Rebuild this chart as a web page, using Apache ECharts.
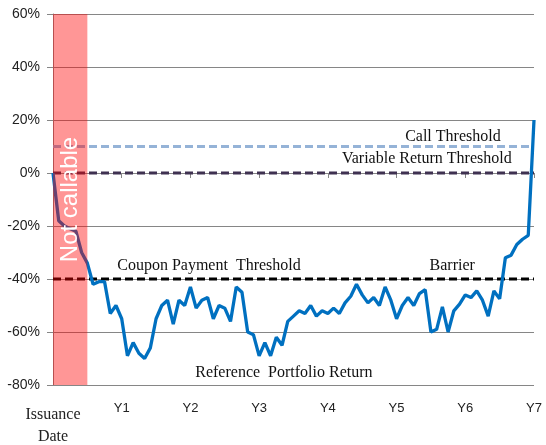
<!DOCTYPE html>
<html>
<head>
<meta charset="utf-8">
<script src="https://cdn.jsdelivr.net/npm/echarts@6/dist/echarts.min.js"></script>
<style>html,body{margin:0;padding:0;background:#fff}#c{width:546px;height:445px}</style>
</head>
<body>
<div id="c"></div>
<script>
// Monthly observations (years from issuance)
const months = [];
for (let i = 0; i <= 84; i++) months.push(i);
const portfolioReturn = [
  0, -18, -20, -21, -22, -30, -34, -42, -41, -41,
  -53, -50, -55, -69, -64, -68, -70, -66, -55, -50,
  -48, -57, -48, -50, -43, -51, -48, -47, -55, -50,
  -51, -56, -43, -45, -60, -61, -69, -64, -69, -62,
  -65, -56, -54, -52, -53, -50, -54, -52, -53, -51,
  -53, -49, -46.5, -42, -46, -49, -47, -50, -43, -48,
  -55, -50, -47, -50, -45.5, -44, -60, -59, -50.5, -60,
  -52, -49.5, -46, -47, -44.5, -48, -54, -44.5, -47.5, -32,
  -31, -27, -25, -23.5, 20
];
const yearTicks = ['Issuance\nDate', 'Y1', 'Y2', 'Y3', 'Y4', 'Y5', 'Y6', 'Y7'];
const callThreshold = 10;
const variableReturnThreshold = 0;
const barrier = -40;
const notCallableEnd = 0.5;

const lineData = months.map((m, i) => [m / 12, portfolioReturn[i]]);
const flat = v => [[0, v], [7, v]];

const serif = 'Liberation Serif';
const sans = 'Liberation Sans';

const chart = echarts.init(document.getElementById('c'));
chart.setOption({
  animation: false,
  grid: { left: 53, right: 12, top: 14, bottom: 58 },
  xAxis: {
    type: 'value', min: 0, max: 7, interval: 1,
    axisLine: { show: true, lineStyle: { color: '#868686', width: 1 } },
    axisTick: { show: true, length: 5, lineStyle: { color: '#868686' } },
    splitLine: { show: false },
    axisLabel: {
      margin: 17, color: '#222', fontFamily: sans, fontSize: 13,
      formatter: v => v === 0 ? '{d|' + yearTicks[0] + '}' : yearTicks[v],
      rich: { d: { fontFamily: serif, fontSize: 16, lineHeight: 22, color: '#222', padding: [4, 0, 0, 0] } }
    }
  },
  yAxis: {
    type: 'value', min: -80, max: 60, interval: 20,
    axisLine: { show: true, lineStyle: { color: '#868686', width: 1 } },
    axisTick: { show: true, length: 6, lineStyle: { color: '#868686' } },
    splitLine: { show: true, lineStyle: { color: '#868686', width: 1 } },
    axisLabel: { margin: 13, color: '#222', fontFamily: sans, fontSize: 14, formatter: '{value}%' }
  },
  series: [
    {
      type: 'line', data: flat(callThreshold), symbol: 'none', z: 2,
      lineStyle: { color: '#95B3D7', width: 3, type: [8, 4] },
      markPoint: {
        symbol: 'circle', symbolSize: 0,
        label: { show: true, position: 'inside', color: '#111', fontFamily: serif, fontSize: 16, formatter: '{b}' },
        data: [
          { name: 'Call Threshold', coord: [5.82, 13.6] },
          { name: 'Variable Return Threshold', coord: [5.44, 5.4] }
        ]
      }
    },
    {
      type: 'line', data: flat(variableReturnThreshold), symbol: 'none', z: 2,
      lineStyle: { color: '#3F3151', width: 3, type: [8, 4] }
    },
    {
      type: 'line', data: flat(barrier), symbol: 'none', z: 2,
      lineStyle: { color: '#000', width: 3, type: [8, 4] },
      markPoint: {
        symbol: 'circle', symbolSize: 0,
        label: { show: true, position: 'inside', color: '#111', fontFamily: serif, fontSize: 16, formatter: '{b}' },
        data: [
          { name: 'Coupon Payment  Threshold', coord: [2.27, -35] },
          { name: 'Barrier', coord: [5.81, -35] },
          { name: 'Reference  Portfolio Return', coord: [3.36, -75.3] }
        ]
      }
    },
    {
      type: 'line', data: lineData, symbol: 'none', z: 3,
      lineStyle: { color: '#0070C0', width: 3.3 }
    },
    {
      type: 'line', data: [], z: 10,
      markArea: {
        silent: true, z: 10,
        itemStyle: { color: 'rgba(255,0,0,0.41)' },
        label: { show: true, position: 'inside', rotate: 90, color: '#fff', fontFamily: sans, fontSize: 24 },
        data: [[{ name: 'Not callable', xAxis: 0, yAxis: 60 }, { xAxis: notCallableEnd, yAxis: -80 }]]
      }
    }
  ]
});
</script>
</body>
</html>
